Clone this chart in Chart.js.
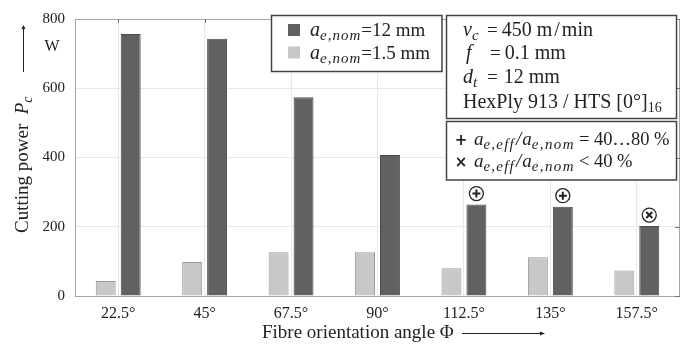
<!DOCTYPE html>
<html>
<head>
<meta charset="utf-8">
<script src="https://cdn.jsdelivr.net/npm/chart.js@4"></script>
<style>
  body { margin: 0; background: #fff; }
  #wrap { width: 688px; height: 344px; position: relative; }
</style>
</head>
<body>
<div id="wrap"><canvas id="powerChart"></canvas></div>
<script>
// fibre orientation angles
const angles = ['22.5°', '45°', '67.5°', '90°', '112.5°', '135°', '157.5°'];
// cutting power in W
const power15 = [43, 98, 126, 126, 80, 112, 74];     // a_e,nom = 1.5 mm
const power12 = [757, 743, 574, 407, 264, 258, 202]; // a_e,nom = 12 mm
// engagement markers above the 12 mm bars
const marks = ['', '', '', '', '+', '+', 'x'];
const yTicks = [0, 200, 400, 600, 800];

const SERIF = '"Liberation Serif", "DejaVu Serif", serif';
const INK = '#222';

// draw a run of text pieces, each with its own font / shift / letter spacing
function rich(ctx, x, y, parts) {
	for (const p of parts) {
		ctx.font = p.f;
		x += p.dx || 0;
		if (p.ls) {
			for (const ch of p.t) {
				ctx.fillText(ch, x, y + (p.dy || 0));
				x += ctx.measureText(ch).width + p.ls;
			}
		} else {
			ctx.fillText(p.t, x, y + (p.dy || 0));
			x += ctx.measureText(p.t).width;
		}
	}
	return x;
}
const R = s => s + 'px ' + SERIF;
const I = s => 'italic ' + s + 'px ' + SERIF;

const decor = {
	id: 'decor',
	beforeDatasetsDraw(chart) {
		const ctx = chart.ctx, a = chart.chartArea;
		ctx.save();
		ctx.strokeStyle = '#a6a6a6';
		ctx.lineWidth = 1;
		ctx.strokeRect(Math.round(a.left) + 0.5, Math.round(a.top) + 0.5,
			Math.round(a.right - a.left) - 1, Math.round(a.bottom - a.top));
		// little inward ticks on top and right
		ctx.strokeStyle = '#777';
		chart.scales.x.ticks.forEach((t, i) => {
			const x = Math.round(chart.scales.x.getPixelForValue(i)) + 0.5;
			ctx.beginPath(); ctx.moveTo(x, a.top); ctx.lineTo(x, a.top + 4); ctx.stroke();
		});
		yTicks.forEach(v => {
			const y = Math.round(chart.scales.y.getPixelForValue(v)) + 0.5;
			ctx.beginPath(); ctx.moveTo(a.right - 5, y); ctx.lineTo(a.right, y); ctx.stroke();
		});
		ctx.restore();
	},
	afterDraw(chart) {
		const ctx = chart.ctx;
		ctx.save();
		ctx.fillStyle = INK;
		ctx.textBaseline = 'alphabetic';
		ctx.textAlign = 'left';

		// y axis title, unit and arrow
		ctx.font = R(16);
		ctx.textAlign = 'center';
		ctx.fillText('W', 52, 51);
		ctx.textAlign = 'left';
		ctx.save();
		ctx.translate(28, 233);
		ctx.rotate(-Math.PI / 2);
		rich(ctx, 0, 0, [
			{ t: 'Cutting power  ', f: R(19) },
			{ t: 'P', f: I(19) },
			{ t: 'c', f: I(14), dy: 4 }
		]);
		ctx.restore();
		ctx.strokeStyle = INK;
		ctx.lineWidth = 1;
		ctx.beginPath(); ctx.moveTo(23.5, 72); ctx.lineTo(23.5, 26); ctx.stroke();
		ctx.beginPath(); ctx.moveTo(21.5, 29); ctx.lineTo(23.5, 25); ctx.lineTo(25.5, 29); ctx.fill();

		// x axis title and arrow
		rich(ctx, 262, 338, [{ t: 'Fibre orientation angle Φ', f: R(19) }]);
		ctx.beginPath(); ctx.moveTo(462, 333.5); ctx.lineTo(543, 333.5); ctx.stroke();
		ctx.beginPath(); ctx.moveTo(540, 331.5); ctx.lineTo(545, 333.5); ctx.lineTo(540, 335.5); ctx.fill();

		// boxes
		const box = (x, y, w, h) => {
			ctx.fillStyle = '#fff';
			ctx.fillRect(x, y, w, h);
			ctx.strokeStyle = '#444';
			ctx.lineWidth = 1.5;
			ctx.strokeRect(x, y, w, h);
			ctx.fillStyle = INK;
		};

		// legend
		box(271.5, 15.5, 170.5, 56);
		ctx.fillStyle = chart.data.datasets[1].backgroundColor;
		ctx.fillRect(288, 24, 12, 12);
		ctx.fillStyle = chart.data.datasets[0].backgroundColor;
		ctx.fillRect(288, 46.5, 12, 12);
		ctx.fillStyle = INK;
		rich(ctx, 310, 36, [
			{ t: 'a', f: I(20) }, { t: 'e,nom', f: I(15), dy: 4, ls: 1 }, { t: '=12 mm', f: R(19) }
		]);
		rich(ctx, 310, 58.5, [
			{ t: 'a', f: I(20) }, { t: 'e,nom', f: I(15), dy: 4, ls: 1 }, { t: '=1.5 mm', f: R(19) }
		]);

		// process parameters
		box(446.5, 15.5, 230, 103);
		rich(ctx, 463, 36, [{ t: 'v', f: I(20) }, { t: 'c', f: I(15), dy: 4 }]);
		rich(ctx, 487, 36, [
			{ t: '=', f: R(19) }, { t: '450 m', f: R(20), dx: 4 },
			{ t: '/', f: R(20), dx: 2 }, { t: 'min', f: R(20), dx: 2 }
		]);
		rich(ctx, 466, 59, [{ t: 'f', f: I(20) }]);
		rich(ctx, 490, 59, [{ t: '=', f: R(19) }, { t: '0.1 mm', f: R(20), dx: 4 }]);
		rich(ctx, 463, 82.5, [{ t: 'd', f: I(20) }, { t: 't', f: I(15), dy: 4 }]);
		rich(ctx, 487, 82.5, [{ t: '=', f: R(19) }, { t: '12 mm', f: R(20), dx: 6 }]);
		rich(ctx, 463, 107.5, [
			{ t: 'HexPly 913 / HTS [0°]', f: R(20) }, { t: '16', f: R(14), dy: 4 }
		]);

		// engagement ratio key
		box(446.5, 121.5, 230, 58.5);
		ctx.font = 'bold 15px "DejaVu Sans", sans-serif';
		ctx.textAlign = 'center';
		ctx.fillText('+', 461, 145);
		ctx.fillText('×', 461, 167);
		ctx.textAlign = 'left';
		const ratio = [
			{ t: 'a', f: I(19) }, { t: 'e,eff', f: I(15), dy: 4, ls: 1.2 },
			{ t: '/', f: I(19), dx: 1 },
			{ t: 'a', f: I(19), dx: 1 }, { t: 'e,nom', f: I(15), dy: 4, ls: 1.4 }
		];
		rich(ctx, 474, 145, ratio.concat([{ t: '= 40…80 %', f: R(18.5), dx: 4 }]));
		rich(ctx, 474, 166.5, ratio.concat([{ t: '< 40 %', f: R(18.5), dx: 4 }]));

		// circled markers above 12 mm bars
		const meta = chart.getDatasetMeta(1);
		ctx.strokeStyle = INK;
		marks.forEach((m, i) => {
			if (!m) return;
			const bar = meta.data[i];
			const cx = bar.x, cy = bar.y - 11;
			ctx.lineWidth = 1.3;
			ctx.beginPath(); ctx.arc(cx, cy, 7, 0, Math.PI * 2); ctx.stroke();
			ctx.lineWidth = 2;
			ctx.beginPath();
			if (m === '+') {
				ctx.moveTo(cx - 4, cy); ctx.lineTo(cx + 4, cy);
				ctx.moveTo(cx, cy - 4); ctx.lineTo(cx, cy + 4);
			} else {
				ctx.moveTo(cx - 3, cy - 3); ctx.lineTo(cx + 3, cy + 3);
				ctx.moveTo(cx + 3, cy - 3); ctx.lineTo(cx - 3, cy + 3);
			}
			ctx.stroke();
		});
		ctx.restore();
	}
};

const ctx = document.getElementById('powerChart').getContext('2d');
const powerChart = new Chart(ctx, {
	type: 'bar',
	data: {
		labels: angles,
		datasets: [{
			label: 'a_e,nom = 1.5 mm',
			data: power15,
			backgroundColor: '#c8c8c8',
			borderColor: '#9a9a9a',
			borderWidth: 1,
			barPercentage: 0.8,
			categoryPercentage: 0.577
		}, {
			label: 'a_e,nom = 12 mm',
			data: power12,
			backgroundColor: '#616161',
			borderColor: '#4a4a4a',
			borderWidth: 1,
			barPercentage: 0.8,
			categoryPercentage: 0.577
		}]
	},
	options: {
		responsive: true,
		maintainAspectRatio: false,
		animation: false,
		layout: { padding: { top: 12, right: 8, left: 0, bottom: 0 } },
		plugins: {
			legend: { display: false },
			tooltip: { enabled: false }
		},
		scales: {
			x: {
				offset: true,
				grid: { offset: false, color: '#e9e9e9', drawTicks: false },
				border: { display: false },
				ticks: { color: INK, padding: 8, font: { family: SERIF, size: 16 } },
				afterFit: s => { s.height = 48; }
			},
			y: {
				min: 0,
				max: 800,
				afterBuildTicks: s => { s.ticks = yTicks.map(v => ({ value: v })); },
				grid: { color: '#e9e9e9', drawTicks: false },
				border: { display: false },
				ticks: { color: INK, padding: 10, font: { family: SERIF, size: 15 } },
				afterFit: s => { s.width = 75; }
			}
		}
	},
	plugins: [decor]
});
</script>
</body>
</html>
